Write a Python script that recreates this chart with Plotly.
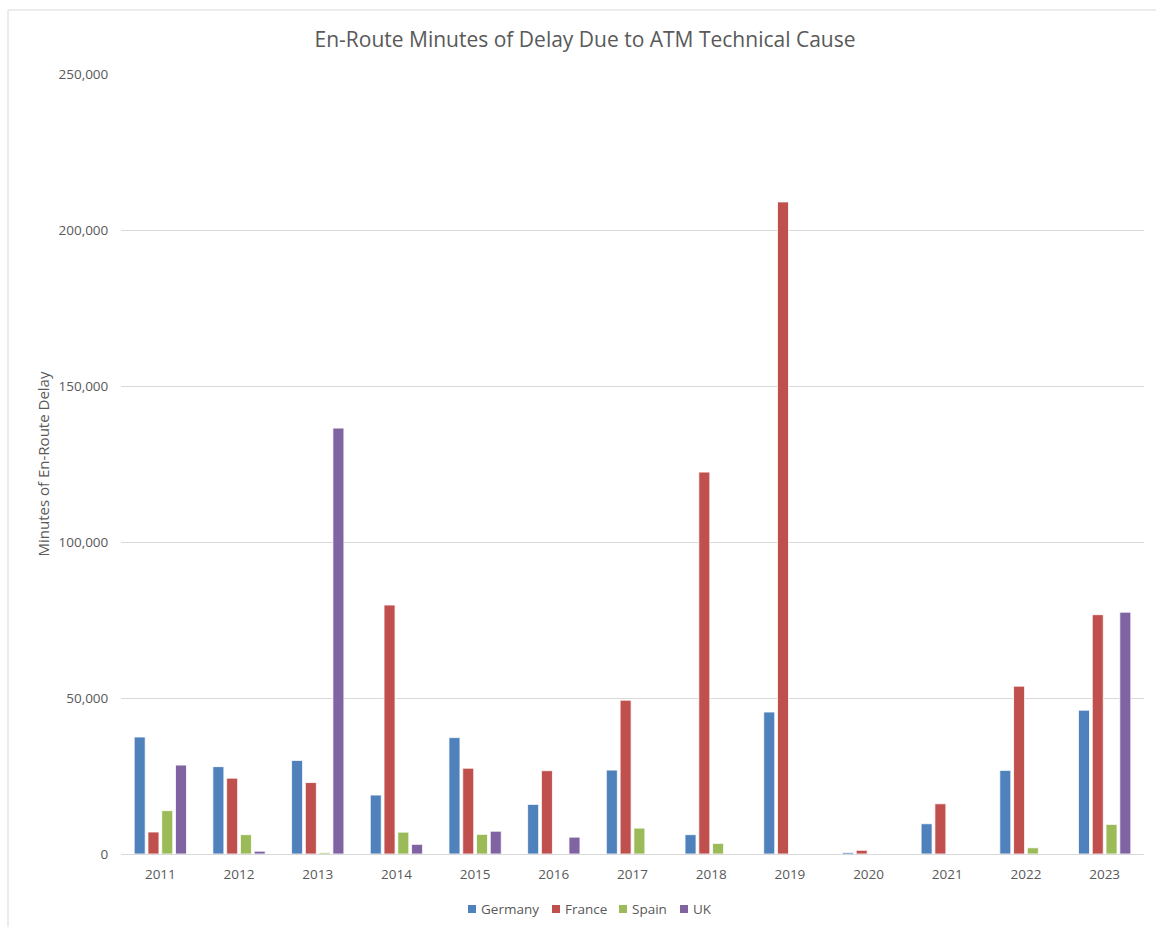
import plotly.graph_objects as go

years = ["2011", "2012", "2013", "2014", "2015", "2016", "2017", "2018", "2019", "2020", "2021", "2022", "2023"]
germany = [37500, 28000, 30000, 18900, 37300, 15900, 26900, 6200, 45500, 500, 9700, 26800, 46100]
france = [7050, 24300, 22900, 79800, 27500, 26700, 49300, 122400, 209000, 1200, 16100, 53800, 76700]
spain = [13900, 6200, 400, 7000, 6300, 0, 8300, 3400, 0, 0, 0, 2000, 9500]
uk = [28500, 900, 136500, 3100, 7300, 5400, 0, 0, 0, 0, 0, 0, 77500]

series = [("Germany", germany, "#4F81BD"), ("France", france, "#C0504D"),
          ("Spain", spain, "#9BBB59"), ("UK", uk, "#8064A2")]

FONT = "Open Sans, Liberation Sans, sans-serif"
GREY = "#595959"

fig = go.Figure()
for name, vals, col in series:
    fig.add_trace(go.Bar(x=years, y=vals, name=name, marker_color=col,
                         marker_line=dict(color="white", width=0.8), showlegend=False))

L, R, T, B = 121, 1144, 74, 854
W, H = R - L, B - T

def px(x):
    return (x - L) / W

def py(y):
    return (B - y) / H

fig.update_layout(
    width=1156, height=927,
    margin=dict(l=L, r=1156 - R, t=T, b=927 - B, autoexpand=False),
    paper_bgcolor="white", plot_bgcolor="white",
    font=dict(family=FONT, color=GREY, size=13.5),
    title=dict(text="En-Route Minutes of Delay Due to ATM Technical Cause",
               xref="container", yref="container",
               x=585 / 1156, xanchor="center", y=1 - 40 / 927, yanchor="middle",
               font=dict(size=21, color=GREY)),
    barmode="group", bargap=0.30, bargroupgap=0.2,
    showlegend=False,
    xaxis=dict(showline=True, linecolor="#d9d9d9", linewidth=1, ticks="outside",
               tickcolor="rgba(255,255,255,0)", ticklen=8,
               tickfont=dict(size=13.5, color=GREY)),
    yaxis=dict(range=[0, 250000], dtick=50000, tickformat=",", showgrid=True,
               gridcolor="#d9d9d9", gridwidth=1, zeroline=False, showline=False,
               ticks="outside", tickcolor="rgba(255,255,255,0)", ticklen=9,
               title=dict(text="Minutes of En-Route Delay", font=dict(size=15, color=GREY), standoff=5),
               tickfont=dict(size=13.5, color=GREY)),
)

# Chart-area border
fig.add_shape(type="rect", xref="paper", yref="paper",
              x0=px(8), x1=px(1170), y0=py(940), y1=py(10),
              line=dict(color="#d9d9d9", width=1), fillcolor="rgba(0,0,0,0)", layer="below")

# Legend (drawn manually to match compact Excel-style legend)
legend_x = [468, 552, 619, 680]
for (name, vals, col), lx in zip(series, legend_x):
    fig.add_shape(type="rect", xref="paper", yref="paper",
                  x0=px(lx), x1=px(lx + 8), y0=py(913), y1=py(905),
                  line=dict(width=0), fillcolor=col)
    fig.add_annotation(text=name, xref="paper", yref="paper", x=px(lx + 11), y=py(909),
                       xanchor="left", yanchor="middle", showarrow=False,
                       font=dict(size=13.5, color=GREY, family=FONT))

fig.write_html("out.html", config={"displayModeBar": False},
               post_script="document.body.style.margin='0';document.body.style.overflow='hidden';")
